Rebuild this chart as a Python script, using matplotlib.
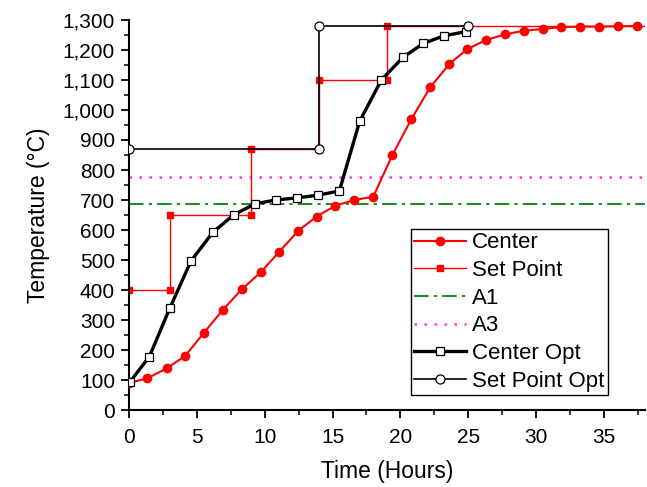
import matplotlib
matplotlib.use("Agg")
import matplotlib.pyplot as plt
from matplotlib.ticker import MultipleLocator, FuncFormatter

plt.rcParams['font.family'] = ['Liberation Sans', 'DejaVu Sans']

# Center (measured)
center_t = [0, 1.35, 2.78, 4.13, 5.53, 6.9, 8.3, 9.7, 11.08, 12.48, 13.83, 15.2,
            16.6, 18.0, 19.4, 20.8, 22.2, 23.6, 24.9, 26.3, 27.7, 29.1, 30.5,
            31.8, 33.2, 34.6, 36.0, 37.4]
center_T = [90, 106, 139, 180, 258, 333, 402, 459, 528, 598, 645, 681,
            700, 711, 849, 969, 1076, 1153, 1202, 1233, 1252, 1264, 1270,
            1276, 1278, 1278, 1279, 1280]

# Set point (step schedule)
set_t = [0, 3, 3, 9, 9, 14, 14, 19, 19, 38]
set_T = [400, 400, 650, 650, 870, 870, 1100, 1100, 1280, 1280]

# Critical temperatures
A1 = 688
A3 = 778

# Optimised center
opt_t = [0.07, 1.5, 3.0, 4.57, 6.17, 7.7, 9.27, 10.8, 12.35, 13.9, 15.5,
         17.0, 18.6, 20.2, 21.7, 23.2, 24.8]
opt_T = [94, 178, 339, 497, 592, 650, 687, 700, 707, 716, 730,
         963, 1100, 1176, 1222, 1247, 1261]

# Optimised set point
setopt_t = [0, 14, 14, 25]
setopt_T = [870, 870, 1280, 1280]

fig = plt.figure(figsize=(6.47, 4.87), dpi=100)
ax = fig.add_axes([0.1994, 0.158, 0.797, 0.801])

ax.plot(center_t, center_T, color='red', lw=1.5, marker='o', ms=6,
        mec='red', mfc='red', label='Center', zorder=3)
ax.plot(set_t, set_T, color='red', lw=1.0, marker='s', ms=5,
        markevery=list(range(len(set_t) - 1)), label='Set Point', zorder=2)
ax.axhline(A1, color='#228B22', lw=1.5, ls=(0, (7, 2.5, 1.5, 2.5)), label='A1', zorder=1)
ax.axhline(A3, color='#ff33ff', lw=1.8, ls=(0, (1, 3)), label='A3', zorder=1)
ax.plot(opt_t, opt_T, color='black', lw=2.4, marker='s', ms=5.5,
        mfc='white', mec='black', mew=0.9, label='Center Opt', zorder=4)
ax.plot(setopt_t, setopt_T, color='black', lw=1.2, marker='o', ms=6.5,
        mfc='white', mec='black', mew=0.9, label='Set Point Opt', zorder=4)

ax.set_xlim(0, 38)
ax.set_ylim(0, 1300)
ax.xaxis.set_major_locator(MultipleLocator(5))
ax.xaxis.set_minor_locator(MultipleLocator(2.5))
ax.yaxis.set_major_locator(MultipleLocator(100))
ax.yaxis.set_minor_locator(MultipleLocator(50))
ax.yaxis.set_major_formatter(FuncFormatter(lambda v, p: f'{int(v):,}'))

for s in ['top', 'right']:
    ax.spines[s].set_visible(False)
for s in ['left', 'bottom']:
    ax.spines[s].set_linewidth(1.5)
ax.tick_params(which='major', direction='out', length=6, width=1.3, labelsize=15)
ax.tick_params(axis='x', which='major', pad=7)
ax.tick_params(axis='y', which='major', pad=4)
ax.tick_params(which='minor', direction='out', length=3.5, width=1.1)
ax.set_xlabel('Time (Hours)', fontsize=16.5, labelpad=9)
ax.set_ylabel('Temperature (°C)', fontsize=16.5, labelpad=9)

leg = ax.legend(loc='upper left', bbox_to_anchor=(0.547, 0.464), fontsize=16,
                frameon=True, fancybox=False, edgecolor='black', framealpha=1,
                handlelength=2.3, handletextpad=0.3, labelspacing=0.3,
                borderpad=0.15, borderaxespad=0)
leg.get_frame().set_linewidth(1.0)

fig.savefig('out.png', dpi=100)
